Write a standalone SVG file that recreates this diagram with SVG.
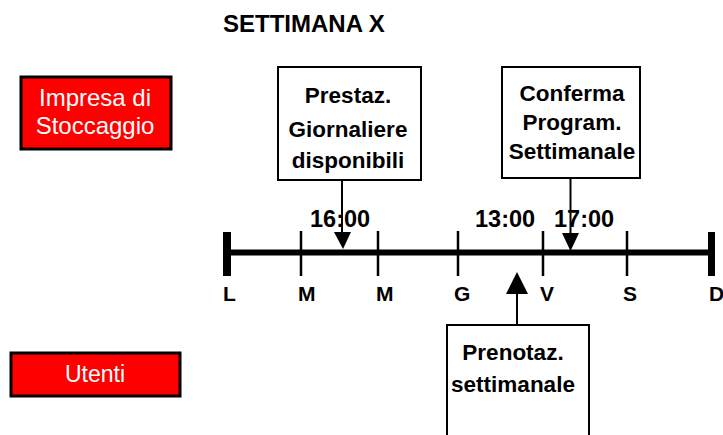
<svg xmlns="http://www.w3.org/2000/svg" width="723" height="435" viewBox="0 0 723 435">
<style>
.red{fill:#ff0000;stroke:#000;stroke-width:3}
.box{fill:#fff;stroke:#000;stroke-width:2}
.wt{font-family:"Liberation Sans",Arial,sans-serif;font-size:24px;fill:#fff;text-anchor:middle}
.bt{font-family:"Liberation Sans",Arial,sans-serif;font-size:22.5px;font-weight:bold;fill:#000;text-anchor:middle}
.lab{font-family:"Liberation Sans",Arial,sans-serif;font-size:21px;font-weight:bold;fill:#000}
.tm{font-family:"Liberation Sans",Arial,sans-serif;font-size:23.5px;font-weight:bold;fill:#000}
.ln{stroke:#000;stroke-width:2;fill:none}
</style>
<rect width="723" height="435" fill="#fff"/>
<text x="223" y="32" font-family="Liberation Sans,Arial,sans-serif" font-size="24" font-weight="bold">SETTIMANA X</text>
<g id="impresa">
<rect class="red" x="21" y="77" width="150" height="72"/>
<text class="wt" x="95" y="106">Impresa di</text>
<text class="wt" x="95" y="134">Stoccaggio</text>
</g>
<g id="utenti">
<rect class="red" x="11" y="353" width="169" height="43"/>
<text class="wt" x="95" y="382" style="font-size:23px">Utenti</text>
</g>
<g id="prestaz">
<rect class="box" x="278" y="67" width="143" height="113"/>
<text class="bt" x="348" y="103">Prestaz.</text>
<text class="bt" x="348" y="137">Giornaliere</text>
<text class="bt" x="348" y="168">disponibili</text>
</g>
<g id="conferma">
<rect class="box" x="502" y="67" width="138" height="111"/>
<text class="bt" x="572" y="101">Conferma</text>
<text class="bt" x="572" y="130">Program.</text>
<text class="bt" x="572" y="159">Settimanale</text>
</g>
<g id="prenotaz">
<rect class="box" x="447" y="325" width="142" height="120"/>
<text class="bt" x="513" y="360">Prenotaz.</text>
<text class="bt" x="513" y="392">settimanale</text>
</g>
<g id="timeline">
<line x1="229" y1="252.5" x2="711" y2="252.5" stroke="#000" stroke-width="6"/>
<rect x="223" y="232" width="8" height="44" fill="#000"/>
<rect x="708" y="232" width="7" height="44" fill="#000"/>
<g stroke="#000" stroke-width="2.5">
<line x1="301" y1="231" x2="301" y2="276"/>
<line x1="378" y1="231" x2="378" y2="276"/>
<line x1="458" y1="231" x2="458" y2="276"/>
<line x1="543" y1="231" x2="543" y2="276"/>
<line x1="627" y1="231" x2="627" y2="276"/>
</g>
<text class="lab" x="223" y="301">L</text>
<text class="lab" x="298" y="301">M</text>
<text class="lab" x="376" y="301">M</text>
<text class="lab" x="454" y="301">G</text>
<text class="lab" x="540" y="301">V</text>
<text class="lab" x="623" y="301">S</text>
<text class="lab" x="709" y="301">D</text>
<text class="tm" x="310" y="227">16:00</text>
<text class="tm" x="475" y="227">13:00</text>
<text class="tm" x="554" y="227">17:00</text>
</g>
<g id="connectors">
<line class="ln" x1="342" y1="180" x2="342" y2="234"/>
<polygon points="334,232 351,232 343,249" fill="#000"/>
<line class="ln" x1="570.5" y1="178" x2="570.5" y2="235"/>
<polygon points="562,233 579,233 570.5,251" fill="#000"/>
<line class="ln" x1="517" y1="291" x2="517" y2="325"/>
<polygon points="506,294 528,294 517,272" fill="#000"/>
</g>
</svg>
